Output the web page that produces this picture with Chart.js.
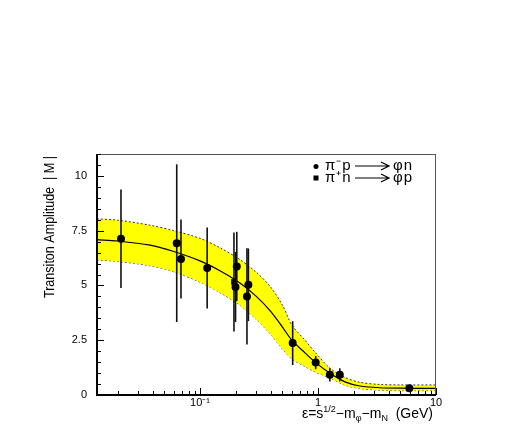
<!DOCTYPE html>
<html><head><meta charset="utf-8">
<script src="https://cdn.jsdelivr.net/npm/chart.js@4/dist/chart.umd.min.js"></script>
<style>html,body{margin:0;padding:0;background:#fff;}#wrap{position:relative;width:523px;height:436px;}</style>
</head><body><div id="wrap"><canvas id="c" width="523" height="436"></canvas></div>
<script>
// ---- data ----
const curveX    = [0.0134, 0.02, 0.0377, 0.06, 0.1, 0.15, 0.218, 0.3, 0.392, 0.5, 0.6, 0.776, 0.945, 1.265, 1.69, 2.27, 3.35, 5, 10];
const curveY    = [7.09, 7.03, 6.84, 6.55, 6.12, 5.65, 5.11, 4.5, 3.85, 3.1, 2.5, 1.92, 1.5, 0.99, 0.6, 0.41, 0.33, 0.31, 0.3];
const bandUpper = [8.04, 7.98, 7.75, 7.5, 7.15, 6.7, 6.18, 5.6, 4.96, 4.1, 3.2, 2.5, 1.95, 1.22, 0.8, 0.58, 0.48, 0.46, 0.46];
const bandLower = [6.16, 6.1, 5.9, 5.62, 5.15, 4.65, 4.1, 3.45, 2.8, 2.1, 1.65, 1.3, 1.05, 0.78, 0.45, 0.3, 0.22, 0.2, 0.2];

const piMinusX   = [0.0214, 0.0635, 0.069, 0.115, 0.205, 0.2, 0.257, 0.25, 0.61, 0.956, 1.26, 1.53, 5.94];
const piMinusY   = [7.13, 6.93, 6.21, 5.80, 5.87, 4.93, 5.03, 4.5, 2.37, 1.48, 0.92, 0.92, 0.31];
const piMinusErr = [2.25, 3.6, 1.8, 1.85, 1.58, 1.6, 1.66, 2.2, 1.0, 0.3, 0.3, 0.3, 0.05];

const piPlusX   = [0.194];
const piPlusY   = [5.16];
const piPlusErr = [2.26];

const yTickValues = [0, 2.5, 5, 7.5, 10];
const yMinorStep = 0.5;
const xTickValues = [0.1, 1, 10];
const xTickLabels = ['10\u207B\u00B9', '1', '10'];
const legendParts = [['\u03C0\u207Bp', '\u03C6n'], ['\u03C0\u207An', '\u03C6p']];
const yTitle = 'Transiton Amplitude  | M |';
const xTitleParts = [['\u03B5=s','n'],['1/2','sup'],['\u2212m','n'],['\u03C6','sub'],['\u2212m','n'],['N','sub'],['  (GeV)','n']];

const FONT = "'Liberation Sans', Arial, Helvetica, sans-serif";
const pts = (xs, ys) => xs.map((x, i) => ({x, y: ys[i]}));

const errorBars = {
  id: 'errorBars',
  beforeDatasetDraw(chart, args) {
    const ds = chart.data.datasets[args.index];
    if (!ds.errors) return;
    const {ctx, scales: {x, y}} = chart;
    ctx.save();
    ctx.strokeStyle = '#111';
    ctx.lineWidth = 1.6;
    ds.data.forEach((p, i) => {
      const px = x.getPixelForValue(p.x);
      ctx.beginPath();
      ctx.moveTo(px, y.getPixelForValue(p.y - ds.errors[i]));
      ctx.lineTo(px, y.getPixelForValue(p.y + ds.errors[i]));
      ctx.stroke();
    });
    ctx.restore();
  }
};

const frameAndText = {
  id: 'frameAndText',
  afterDraw(chart) {
    const {ctx, chartArea: a, scales: {x, y}} = chart;
    ctx.save();
    // frame
    ctx.strokeStyle = '#555';
    ctx.lineWidth = 1;
    ctx.strokeRect(a.left + 0.5, a.top + 0.5, a.right - a.left - 1, a.bottom - a.top);
    ctx.strokeStyle = '#000';
    ctx.lineWidth = 2;
    ctx.beginPath();
    ctx.moveTo(a.left, a.top); ctx.lineTo(a.left, a.bottom); ctx.lineTo(a.right, a.bottom);
    ctx.stroke();
    // y ticks (inward)
    ctx.lineWidth = 1;
    for (let v = 0; v <= y.max + 1e-9; v += yMinorStep) {
      const major = yTickValues.some(t => Math.abs(t - v) < 1e-9);
      const py = Math.round(y.getPixelForValue(v)) + 0.5;
      ctx.beginPath();
      ctx.moveTo(a.left, py); ctx.lineTo(a.left + (major ? 7 : 4), py);
      ctx.stroke();
    }
    // x ticks (inward)
    for (let e = -2; e <= 1; e++) {
      for (let m = 1; m <= 9; m++) {
        const v = m * Math.pow(10, e);
        if (v < x.min - 1e-12 || v > x.max + 1e-12) continue;
        const px = Math.round(x.getPixelForValue(v)) + 0.5;
        ctx.beginPath();
        ctx.moveTo(px, a.bottom); ctx.lineTo(px, a.bottom - (m === 1 ? 7 : 4));
        ctx.stroke();
      }
    }
    // legend
    ctx.fillStyle = '#000';
    ctx.beginPath(); ctx.arc(316, 166.5, 2.5, 0, Math.PI * 2); ctx.fill();
    ctx.fillRect(313.5, 175.5, 5, 5);
    ctx.font = '15px ' + FONT;
    ctx.textBaseline = 'alphabetic';
    ctx.textAlign = 'left';
    ctx.lineWidth = 1.2;
    [170, 182].forEach((by, i) => {
      ctx.letterSpacing = '1px';
      ctx.fillText(legendParts[i][0], 325, by);
      ctx.fillText(legendParts[i][1], 393, by);
      ctx.letterSpacing = '0px';
      ctx.beginPath();
      ctx.moveTo(355, by - 4); ctx.lineTo(388, by - 4);
      ctx.moveTo(381, by - 8); ctx.lineTo(389, by - 4); ctx.lineTo(381, by);
      ctx.stroke();
    });
    // y title
    ctx.save();
    ctx.translate(54, 227);
    ctx.rotate(-Math.PI / 2);
    ctx.textAlign = 'center';
    ctx.font = '14px ' + FONT;
    ctx.fillText(yTitle, 0, 0, 142);
    ctx.restore();
    // x title
    const big = '14px ' + FONT, small = '9px ' + FONT;
    let total = 0;
    xTitleParts.forEach(([t, s]) => { ctx.font = s === 'n' ? big : small; total += ctx.measureText(t).width; });
    let cx = 433 - total;
    ctx.textAlign = 'left';
    xTitleParts.forEach(([t, s]) => {
      ctx.font = s === 'n' ? big : small;
      const dy = s === 'sup' ? -6 : (s === 'sub' ? 3 : 0);
      ctx.fillText(t, cx, 418 + dy);
      cx += ctx.measureText(t).width;
    });
    ctx.restore();
  }
};

new Chart(document.getElementById('c'), {
  type: 'scatter',
  data: {
    datasets: [
      { label: 'π⁻p → φn', data: pts(piMinusX, piMinusY), errors: piMinusErr, order: 0,
        pointStyle: 'circle', pointRadius: 4, backgroundColor: '#000', borderColor: '#000', borderWidth: 0, showLine: false },
      { label: 'π⁺n → φp', data: pts(piPlusX, piPlusY), errors: piPlusErr, order: 0,
        pointStyle: 'rect', pointRadius: 4, backgroundColor: '#000', borderColor: '#000', borderWidth: 0, showLine: false },
      { label: 'fit', data: pts(curveX, curveY), order: 1, showLine: true, pointRadius: 0,
        borderColor: '#000', borderWidth: 1.2, fill: false, tension: 0.3 },
      { label: 'band upper', data: pts(curveX, bandUpper), order: 2, showLine: true, pointRadius: 0,
        borderColor: '#333', borderWidth: 1, borderDash: [2, 2], fill: '+1', backgroundColor: '#ffff00', tension: 0.3 },
      { label: 'band lower', data: pts(curveX, bandLower), order: 3, showLine: true, pointRadius: 0,
        borderColor: '#333', borderWidth: 1, borderDash: [2, 2], fill: false, tension: 0.3 }
    ]
  },
  options: {
    responsive: false, animation: false, devicePixelRatio: 1,
    layout: { padding: { top: 154, right: 87, left: 0, bottom: 0 } },
    plugins: { legend: { display: false }, tooltip: { enabled: false } },
    scales: {
      x: {
        type: 'logarithmic', min: 0.0134, max: 10,
        grid: { display: false, drawTicks: false }, border: { display: false },
        afterBuildTicks: s => { s.ticks = xTickValues.map(v => ({ value: v })); },
        afterFit: s => { s.height = 41; },
        ticks: { autoSkip: false, maxRotation: 0, padding: 1, color: '#000', font: { family: FONT, size: 11 },
          callback: (v) => { const i = xTickValues.indexOf(v); return i >= 0 ? xTickLabels[i] : ''; } }
      },
      y: {
        min: 0, max: 11,
        grid: { display: false, drawTicks: false }, border: { display: false },
        afterBuildTicks: s => { s.ticks = yTickValues.map(v => ({ value: v })); },
        afterFit: s => { s.width = 97; },
        ticks: { padding: 10, color: '#000', font: { family: FONT, size: 11 } }
      }
    }
  },
  plugins: [errorBars, frameAndText]
});
</script></body></html>
